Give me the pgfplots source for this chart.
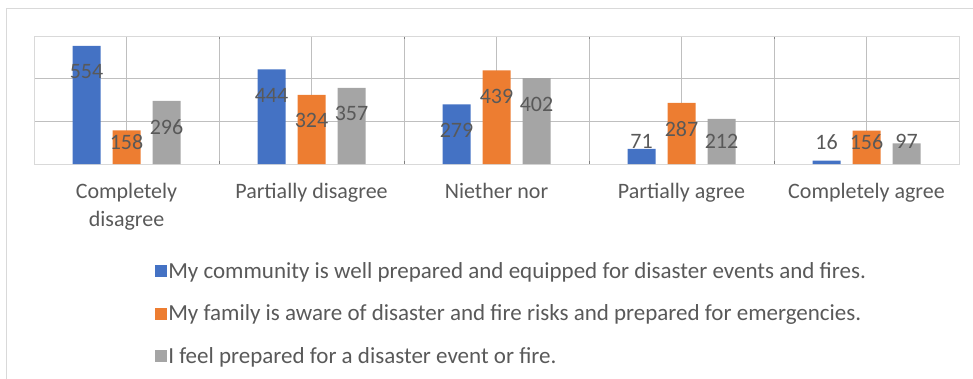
\documentclass[border=0pt]{standalone}
\usepackage{pgfplots}
\pgfplotsset{compat=1.18}
\usepackage{fontspec}
\setmainfont{Carlito}

\definecolor{cBlue}{HTML}{4472C4}
\definecolor{cOrange}{HTML}{ED7D31}
\definecolor{cGray}{HTML}{A5A5A5}
\definecolor{txt}{HTML}{595959}
\definecolor{grid}{HTML}{D9D9D9}

% data labels: "inside end", but never lower than the label row near the base
\pgfplotsset{
  barlabel/.style={
    nodes near coords={\pgfmathprintnumber[assume math mode=true]{\pgfplotspointmeta}},
    visualization depends on={y \as \rawy},
    every node near coord/.append style={
      font=\fontsize{22}{26}\selectfont, text=txt, anchor=center,
      xshift=#1,
      yshift={(max(\rawy-122,104)-\rawy)*128/600}},
  },
}

\begin{document}
\begin{tikzpicture}
  \useasboundingbox (0pt,0pt) rectangle (973pt,-379pt);
  % chart frame
  \draw[grid, line width=1pt] (6pt,-379pt) -- (6pt,-8.5pt) -- (973pt,-8.5pt);

  \begin{axis}[
    at={(34pt,-164pt)}, anchor=south west,
    scale only axis,
    width=925pt, height=128pt,
    xmin=-0.5, xmax=4.5,
    ymin=0, ymax=600,
    axis line style={draw=grid, line width=0.8pt},
    major tick length=0pt,
    % x-axis
    xtick={0,...,4},
    xticklabels={Completely\\disagree, Partially disagree, Niether nor, Partially agree, Completely agree},
    xticklabel style={align=center, text=txt, font=\fontsize{22}{28}\selectfont, yshift=-16pt},
    minor xtick={0.5,1.5,2.5,3.5},
    xminorgrids,
    minor grid style={grid, line width=0.8pt},
    % y-axis
    ytick={0,200,400,600},
    yticklabels={},
    ymajorgrids,
    major grid style={grid, line width=0.8pt},
    % legend
    legend style={at={(0.1272,-0.735)}, anchor=north west, draw=none, fill=none,
      font=\fontsize{23}{27}\selectfont, text=txt, row sep=21pt},
    legend cell align=left,
  ]

    \addplot[ybar, bar width=28pt, bar shift=-40pt, fill=cBlue, draw=none, barlabel=-40pt, forget plot]
      coordinates {(0,554) (1,444) (2,279) (3,71) (4,16)};
    \addplot[ybar, bar width=28pt, bar shift=0pt, fill=cOrange, draw=none, barlabel=0pt, forget plot]
      coordinates {(0,158) (1,324) (2,439) (3,287) (4,156)};
    \addplot[ybar, bar width=28pt, bar shift=40pt, fill=cGray, draw=none, barlabel=40pt, forget plot]
      coordinates {(0,296) (1,357) (2,402) (3,212) (4,97)};

    \addlegendimage{legend image code/.code={\fill[cBlue] (0pt,-5.5pt) rectangle (11pt,5.5pt);}}
    \addlegendentry{My community is well prepared and equipped for disaster events and fires.}
    \addlegendimage{legend image code/.code={\fill[cOrange] (0pt,-5.5pt) rectangle (11pt,5.5pt);}}
    \addlegendentry{My family is aware of disaster and fire risks and prepared for emergencies.}
    \addlegendimage{legend image code/.code={\fill[cGray] (0pt,-5.5pt) rectangle (11pt,5.5pt);}}
    \addlegendentry{I feel prepared for a disaster event or fire.}
  \end{axis}
\end{tikzpicture}
\end{document}
